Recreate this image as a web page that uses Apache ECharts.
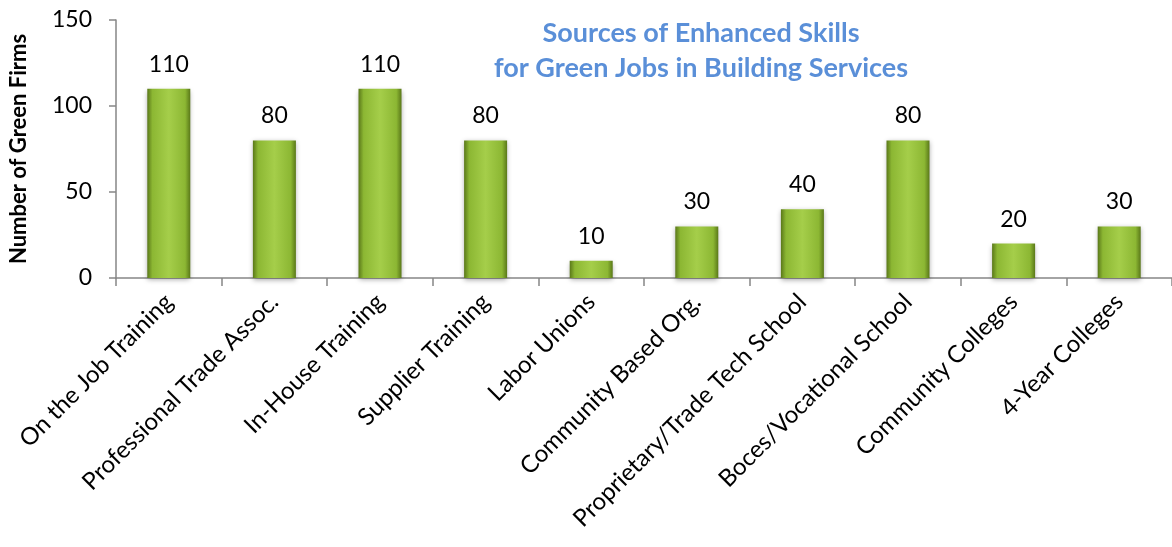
<!DOCTYPE html>
<html>
<head>
<meta charset="utf-8">
<script src="https://cdn.jsdelivr.net/npm/echarts@6/dist/echarts.min.js"></script>
<style>
  html, body { margin: 0; padding: 0; background: #fff; }
  #chart { width: 1172px; height: 547px; }
</style>
</head>
<body>
<div id="chart"></div>
<script>
// 数据
var categories = ['On the Job Training', 'Professional Trade Assoc.', 'In-House Training', 'Supplier Training',
  'Labor Unions', 'Community Based Org.', 'Proprietary/Trade Tech School', 'Boces/Vocational School',
  'Community Colleges', '4-Year Colleges'];
var firmCounts = [110, 80, 110, 80, 10, 30, 40, 80, 20, 30];
var yTicks = [0, 50, 100, 150];

var chart = echarts.init(document.getElementById('chart'));
var font = 'Lato, "Open Sans", sans-serif';

var option = {
  animation: false,
  title: {
    text: 'Sources of Enhanced Skills\nfor Green Jobs in Building Services',
    left: 696,
    top: 11,
    textAlign: 'center',
    textStyle: {
      fontFamily: font,
      fontSize: 27,
      fontWeight: 'bold',
      color: '#5a8fd8',
      lineHeight: 35
    }
  },
  grid: {
    left: 110,
    right: -6,
    top: 20,
    bottom: 269
  },
  xAxis: {
    type: 'category',
    data: categories,
    axisLine: { lineStyle: { color: '#868686', width: 1.5 } },
    axisTick: { show: true, length: 8, lineStyle: { color: '#868686', width: 1.5 } },
    axisLabel: {
      rotate: 45,
      interval: 0,
      margin: 20,
      fontFamily: font,
      fontSize: 24,
      color: '#000'
    }
  },
  yAxis: {
    type: 'value',
    min: yTicks[0],
    max: yTicks[yTicks.length - 1],
    interval: 50,
    name: 'Number of Green Firms',
    nameLocation: 'middle',
    nameGap: 86,
    nameRotate: 90,
    nameTextStyle: {
      fontFamily: font,
      fontSize: 22,
      fontWeight: 'bold',
      color: '#000'
    },
    axisLine: { show: true, lineStyle: { color: '#868686', width: 1.5 } },
    axisTick: { show: true, length: 7, lineStyle: { color: '#868686', width: 1.5 } },
    splitLine: { show: false },
    axisLabel: {
      margin: 24,
      fontFamily: font,
      fontSize: 23,
      color: '#000'
    }
  },
  series: [{
    type: 'bar',
    data: firmCounts,
    barWidth: 43,
    itemStyle: {
      color: new echarts.graphic.LinearGradient(0, 0, 1, 0, [
        { offset: 0, color: '#5a7819' },
        { offset: 0.12, color: '#8cb733' },
        { offset: 0.5, color: '#a5ce4a' },
        { offset: 0.88, color: '#8cb733' },
        { offset: 1, color: '#5a7819' }
      ]),
      shadowColor: 'rgba(0,0,0,0.35)',
      shadowBlur: 5,
      shadowOffsetY: 2
    },
    label: {
      show: true,
      position: 'top',
      distance: 13,
      fontFamily: font,
      fontSize: 23,
      color: '#000'
    }
  }]
};

chart.setOption(option);
</script>
</body>
</html>
